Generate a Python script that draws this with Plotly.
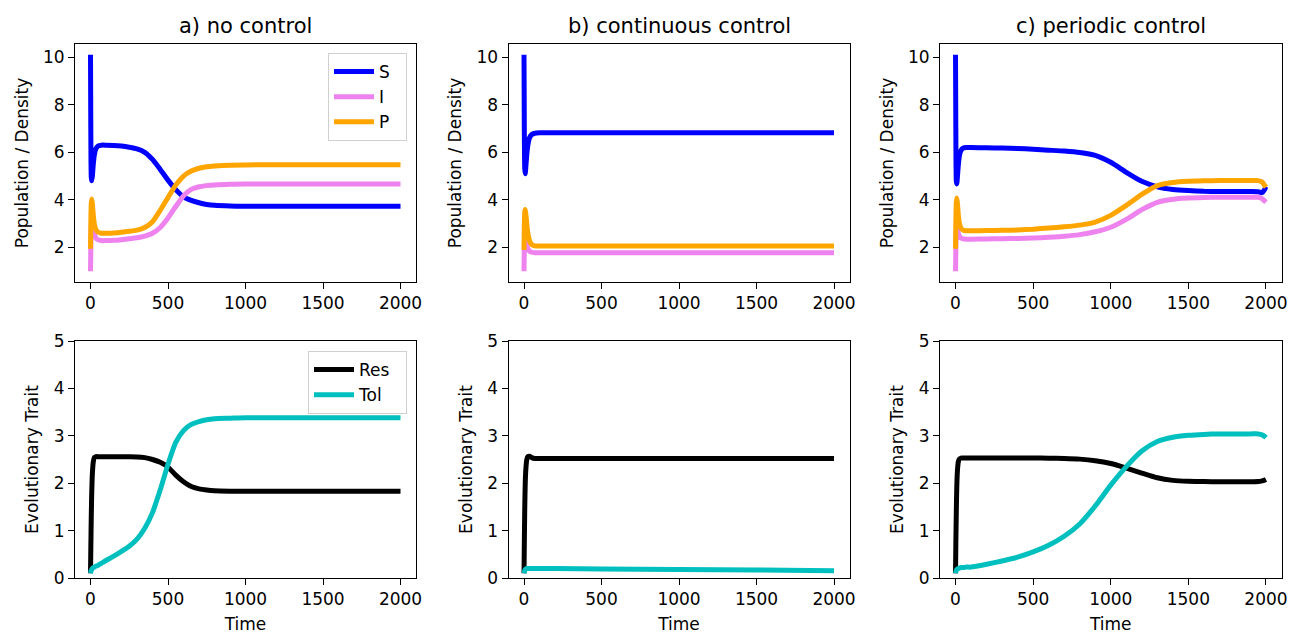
import plotly.graph_objects as go
from plotly.subplots import make_subplots

# ---------------- data ----------------
time_a = [0, 2, 5, 8, 12, 18, 25, 35, 50, 70, 100, 150, 200, 250, 300, 350, 400, 450, 500,
          550, 600, 650, 700, 750, 800, 900, 1000, 1200, 1400, 1600, 1800, 2000]
S_a = [10.1, 7.0, 4.95, 4.8, 5.0, 5.5, 5.9, 6.15, 6.27, 6.3, 6.3, 6.29, 6.26, 6.21, 6.14, 6.0,
       5.7, 5.28, 4.83, 4.43, 4.13, 3.98, 3.88, 3.81, 3.77, 3.74, 3.73, 3.73, 3.73, 3.73, 3.73, 3.73]
I_a = [1.0, 2.0, 2.9, 3.2, 3.0, 2.75, 2.55, 2.4, 2.32, 2.29, 2.29, 2.3, 2.33, 2.37, 2.41, 2.48,
       2.6, 2.84, 3.24, 3.72, 4.17, 4.44, 4.55, 4.6, 4.63, 4.66, 4.67, 4.67, 4.67, 4.67, 4.67, 4.67]
P_a = [1.95, 3.0, 3.85, 4.04, 3.85, 3.35, 2.98, 2.75, 2.64, 2.6, 2.6, 2.61, 2.64, 2.68, 2.73, 2.84,
       3.08, 3.56, 4.1, 4.62, 5.0, 5.21, 5.33, 5.39, 5.42, 5.46, 5.47, 5.48, 5.48, 5.48, 5.48, 5.48]
Res_a = [0.1, 0.6, 1.3, 1.8, 2.2, 2.45, 2.54, 2.56, 2.56, 2.56, 2.56, 2.56, 2.56, 2.558, 2.555, 2.54,
         2.5, 2.44, 2.34, 2.17, 2.03, 1.93, 1.88, 1.855, 1.84, 1.832, 1.83, 1.83, 1.83, 1.83, 1.83, 1.83]
Tol_a = [0.1, 0.13, 0.16, 0.18, 0.2, 0.22, 0.23, 0.25, 0.27, 0.31, 0.37, 0.46, 0.56, 0.67, 0.82, 1.05,
         1.38, 1.86, 2.4, 2.86, 3.11, 3.24, 3.3, 3.34, 3.36, 3.37, 3.38, 3.38, 3.38, 3.38, 3.38, 3.38]

time_b = [0, 2, 5, 8, 12, 18, 25, 35, 50, 70, 100, 200, 500, 1000, 1500, 2000]
S_b = [10.1, 7.0, 5.3, 5.1, 5.4, 5.9, 6.3, 6.6, 6.75, 6.8, 6.82, 6.82, 6.82, 6.82, 6.82, 6.82]
I_b = [1.0, 1.9, 2.4, 2.5, 2.35, 2.1, 1.95, 1.85, 1.8, 1.78, 1.78, 1.78, 1.78, 1.78, 1.78, 1.78]
P_b = [1.9, 2.9, 3.5, 3.6, 3.4, 3.0, 2.6, 2.3, 2.12, 2.07, 2.06, 2.06, 2.06, 2.06, 2.06, 2.06]
Res_b = [0.1, 0.7, 1.5, 2.0, 2.3, 2.5, 2.56, 2.57, 2.54, 2.52, 2.52, 2.52, 2.52, 2.52, 2.52, 2.52]
Tol_b = [0.1, 0.13, 0.16, 0.18, 0.19, 0.2, 0.2, 0.2, 0.2, 0.2, 0.2, 0.2, 0.19, 0.18, 0.17, 0.155]

time_c = [0, 2, 5, 8, 12, 18, 25, 35, 50, 70, 100, 200, 300, 400, 500, 600, 700, 800, 900, 1000,
          1100, 1200, 1300, 1400, 1500, 1600, 1700, 1800, 1900, 1950, 1975, 1990, 2000]
S_c = [10.1, 7.0, 4.8, 4.67, 4.95, 5.45, 5.85, 6.08, 6.18, 6.2, 6.2, 6.19, 6.18, 6.16, 6.13, 6.09,
       6.05, 5.99, 5.87, 5.58, 5.16, 4.78, 4.55, 4.44, 4.39, 4.36, 4.35, 4.35, 4.35, 4.34, 4.3, 4.42, 4.55]
I_c = [1.0, 1.9, 2.7, 3.0, 2.85, 2.6, 2.47, 2.4, 2.36, 2.35, 2.35, 2.36, 2.37, 2.38, 2.4, 2.43,
       2.47, 2.54, 2.66, 2.85, 3.18, 3.59, 3.9, 4.03, 4.08, 4.1, 4.11, 4.11, 4.11, 4.11, 4.05, 3.96, 3.9]
P_c = [1.95, 3.0, 3.9, 4.08, 3.88, 3.38, 3.02, 2.82, 2.72, 2.7, 2.7, 2.71, 2.72, 2.74, 2.77, 2.82,
       2.87, 2.94, 3.07, 3.35, 3.77, 4.23, 4.6, 4.73, 4.78, 4.8, 4.81, 4.81, 4.81, 4.81, 4.75, 4.62, 4.53]
Res_c = [0.1, 0.7, 1.4, 1.9, 2.25, 2.45, 2.51, 2.53, 2.53, 2.53, 2.53, 2.53, 2.53, 2.53, 2.53, 2.528,
         2.522, 2.508, 2.475, 2.415, 2.32, 2.215, 2.115, 2.06, 2.04, 2.035, 2.03, 2.03, 2.03, 2.035, 2.05, 2.065, 2.08]
Tol_c = [0.1, 0.13, 0.16, 0.18, 0.19, 0.2, 0.21, 0.22, 0.22, 0.23, 0.23, 0.29, 0.36, 0.44, 0.55, 0.69,
         0.88, 1.14, 1.52, 1.96, 2.35, 2.68, 2.88, 2.97, 3.01, 3.03, 3.04, 3.04, 3.04, 3.04, 3.02, 2.99, 2.96]

titles = ["a) no control", "b) continuous control", "c) periodic control"]
x_ticks = [0, 500, 1000, 1500, 2000]
pop_ticks = [2, 4, 6, 8, 10]
trait_ticks = [0, 1, 2, 3, 4, 5]

# ---------------- figure ----------------
W, H = 1290, 634
FONT = "DejaVu Sans"
TXT = "#000000"
fig = make_subplots(rows=2, cols=3)

col_x = [(75, 416), (508.5, 849.5), (940, 1281.5)]
row_y = [(44, 282), (341, 578)]

colors = {"S": "#0000ff", "I": "#ee82ee", "P": "#ffa500", "Res": "#000000", "Tol": "#00bfbf"}
panels = [(time_a, S_a, I_a, P_a, Res_a, Tol_a),
          (time_b, S_b, I_b, P_b, Res_b, Tol_b),
          (time_c, S_c, I_c, P_c, Res_c, Tol_c)]

PAD = "\u00a0\u00a0"  # extra room on the legend's right, as in the reference
LW = 5
for ci, (t, S, I, P, R, T) in enumerate(panels):
    col = ci + 1
    for name, ys in (("S", S), ("I", I), ("P", P)):
        fig.add_trace(go.Scatter(x=t, y=ys, mode="lines", name=name + PAD,
                                 line=dict(color=colors[name], width=LW, shape="spline", smoothing=0.6),
                                 showlegend=(ci == 0), legend="legend"), row=1, col=col)
    for name, ys in (("Res", R), ("Tol", T)):
        fig.add_trace(go.Scatter(x=t, y=ys, mode="lines", name=name + PAD,
                                 line=dict(color=colors[name], width=LW, shape="spline", smoothing=0.6),
                                 showlegend=(ci == 0), legend="legend2"), row=2, col=col)

axis_common = dict(showline=True, linecolor="black", linewidth=1, mirror=True,
                   ticks="outside", ticklen=6, tickcolor="black", tickwidth=1,
                   showgrid=False, zeroline=False, automargin=False,
                   tickfont=dict(family=FONT, size=17, color=TXT))
label_font = dict(family=FONT, size=17, color=TXT)

for r in range(2):
    for c in range(3):
        idx = r * 3 + c + 1
        xa = "xaxis" if idx == 1 else f"xaxis{idx}"
        ya = "yaxis" if idx == 1 else f"yaxis{idx}"
        x0, x1 = col_x[c]
        y0, y1 = row_y[r]
        fig.layout[xa].update(domain=[x0 / W, x1 / W], range=[-100, 2100],
                              tickvals=x_ticks, **axis_common)
        yt = dict(domain=[1 - y1 / H, 1 - y0 / H], **axis_common)
        if r == 0:
            yt.update(range=[0.55, 10.55], tickvals=pop_ticks,
                      title=dict(text="Population / Density", standoff=10, font=label_font))
        else:
            yt.update(range=[0, 5], tickvals=trait_ticks,
                      title=dict(text="Evolutionary Trait", standoff=10, font=label_font))
            fig.layout[xa].update(title=dict(text="Time", standoff=9, font=label_font))
        fig.layout[ya].update(**yt)

for c in range(3):
    x0, x1 = col_x[c]
    fig.add_annotation(text=titles[c], x=(x0 + x1) / 2 / W, y=1 - 26 / H,
                       xref="paper", yref="paper", xanchor="center", yanchor="middle",
                       showarrow=False, font=dict(family=FONT, size=21, color=TXT))

legend_style = dict(bgcolor="rgba(255,255,255,0.9)", bordercolor="#d0d0d0", borderwidth=1,
                    font=dict(family=FONT, size=17, color=TXT),
                    xanchor="right", yanchor="top", itemwidth=40, tracegroupgap=0)
fig.update_layout(
    width=W, height=H, autosize=False,
    margin=dict(l=0, r=0, t=0, b=0),
    paper_bgcolor="white", plot_bgcolor="white",
    font=dict(family=FONT, size=17, color=TXT),
    legend=dict(x=407 / W, y=1 - 53 / H, **legend_style),
    legend2=dict(x=407 / W, y=1 - 351 / H, **legend_style),
)

fig.write_html("out.html", config={"displayModeBar": False},
               post_script="document.body.style.margin='0';document.body.style.overflow='hidden';")
